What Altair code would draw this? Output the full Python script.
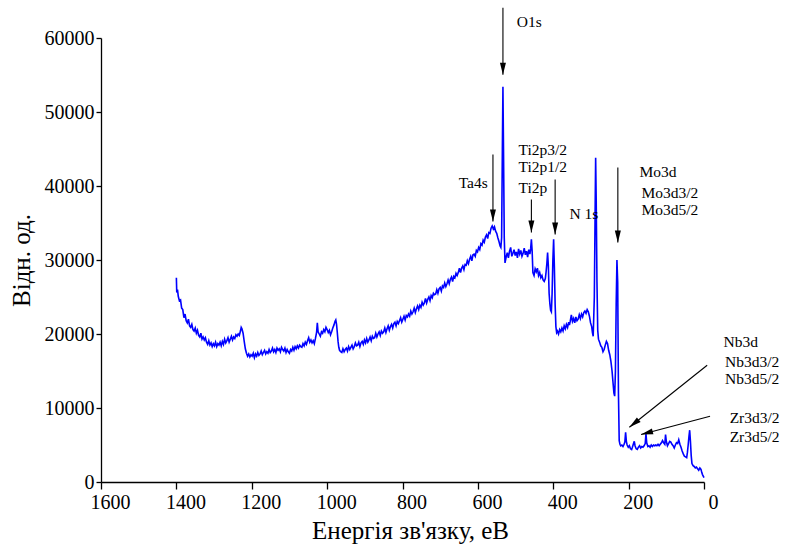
import math
import altair as alt
import pandas as pd

# XPS survey spectrum: binding energy (eV) and intensity (counts)
energy = [
    1400, 1399, 1397, 1395, 1392, 1389, 1386, 1383, 1380, 1377, 1374, 1371, 1368, 1365,
    1362, 1359, 1356, 1353, 1350, 1347, 1344, 1341, 1338, 1335, 1332, 1329, 1326, 1323,
    1320, 1317, 1314, 1311, 1308, 1305, 1302, 1299, 1296, 1293, 1290, 1287, 1284, 1281,
    1278, 1275, 1272, 1269, 1266, 1263, 1260, 1257, 1254, 1251, 1248, 1245, 1242, 1239,
    1236, 1233, 1230, 1228, 1226, 1223, 1220, 1217, 1214, 1211, 1208, 1205, 1202, 1199,
    1196, 1193, 1190, 1187, 1184, 1181, 1178, 1175, 1172, 1169, 1166, 1163, 1160, 1157,
    1154, 1151, 1148, 1145, 1142, 1139, 1136, 1133, 1130, 1127, 1124, 1121, 1118, 1115,
    1112, 1109, 1106, 1103, 1100, 1097, 1094, 1091, 1088, 1085, 1082, 1079, 1076, 1073,
    1070, 1067, 1064, 1061, 1058, 1055, 1052, 1049, 1046, 1043, 1040, 1037, 1034, 1031,
    1028, 1026, 1024, 1021, 1018, 1015, 1012, 1009, 1006, 1003, 1000, 997, 994, 991,
    988, 985, 982, 979, 977, 975, 973, 971, 969, 967,
    964, 961, 958, 955, 952, 949, 946, 943, 940, 937, 934, 931, 928, 925, 922, 919,
    916, 913, 910, 907, 904, 901, 898, 895, 892, 889, 886, 883, 880, 877, 874, 871,
    868, 865, 862, 859, 856, 853, 850, 847, 844, 841, 838, 835, 832, 829, 826, 823,
    820, 817, 814, 811, 808, 805, 802, 799, 796, 793, 790, 787, 784, 781, 778, 775,
    772, 769, 766, 763, 760, 757, 754, 751, 748, 745, 742, 739, 736, 733, 730, 727,
    724, 721, 718, 715, 712, 709, 706, 703, 700, 697, 694, 691, 688, 685, 682, 679,
    676, 673, 670, 667, 664, 661, 658, 655, 652, 649, 646, 643, 640, 637, 634, 631,
    628, 625, 622, 619, 616, 613, 610, 607, 604, 601, 598, 595, 592, 589, 586, 583,
    580, 577, 574, 571, 568, 565, 562, 559, 556, 553, 550, 547, 544, 541, 539,
    537, 535, 533.5, 532, 530, 528, 525, 522, 519, 516, 513, 510, 507, 504, 501, 498,
    495, 492, 489, 486, 483, 480, 477, 474, 471, 468, 465, 462, 460, 458, 456, 454, 451,
    448, 445, 442, 439, 436, 433, 430, 427, 424, 421, 419, 417, 415, 413, 411, 409, 407,
    405, 403, 401, 399, 397, 395, 393, 391, 389, 386, 383, 380, 377, 374, 371, 368, 365,
    362, 359, 357, 355, 352, 349, 346, 343, 340, 337, 334, 331, 328, 325, 322, 319, 316,
    313, 310, 307, 304, 301, 298, 296, 294, 291, 289, 287.5, 286, 284, 282, 280, 277,
    274, 271, 268, 265, 262, 259, 256, 253, 250, 247, 244, 241, 239, 237, 235, 233, 231,
    229, 227, 225, 223, 221, 218, 215, 212, 210, 208, 206, 204, 201, 198, 195, 192, 190,
    187, 185, 183, 180, 177, 174, 171, 168, 165, 162, 159, 156, 154, 152, 149, 146, 143,
    140, 137, 134, 131, 128, 125, 122, 119, 116, 113, 110, 107, 104, 102, 100, 97, 94,
    91, 88, 85, 82, 79, 76, 73, 70, 67, 64, 61, 58, 55, 52, 49, 46, 44, 42, 40, 38, 36,
    34, 32, 29, 26, 23, 20, 17, 14, 11, 8, 6, 4, 2, 0,
]
counts = [
    27600, 25600, 26000, 25100, 24500, 24600, 23500, 23300, 22200, 22700, 21800, 21500, 22000, 21100,
    20900, 21300, 20600, 20400, 20800, 20100, 20500, 19800, 19600, 20100, 19300, 19600, 19200, 19500,
    18900, 18600, 19100, 18500, 18800, 18300, 18700, 18400, 18900, 18300, 18700, 18500, 18900, 18400,
    19000, 18600, 19300, 18800, 19100, 19500, 18900, 19300, 19700, 19200, 19600, 19400, 19900, 19700,
    20000, 19800, 20400, 20900, 20700, 20100, 19000, 18000, 17400, 17000, 17300, 16900, 17200, 17000,
    17400, 16800, 17300, 17000, 17500, 17100, 17300, 17700, 17200, 17500, 17800, 17300, 17600, 17400,
    17900, 17500, 17700, 18100, 17600, 17900, 17500, 18100, 17800, 18000, 17600, 18200, 17900, 17700,
    18100, 17500, 17900, 17600, 17400, 17900, 17700, 18200, 17800, 18300, 18000, 18400, 18100, 18500,
    18300, 18200, 18700, 18400, 18900, 18600, 19100, 19500, 18900, 19200, 18800, 19100, 18700, 19400,
    20200, 21500, 20300, 20000, 19700, 20300, 20100, 20600, 20300, 20900, 20600, 20200, 20500, 19900,
    20300, 20800, 21200, 21700, 21900, 21300, 20200, 19000, 18200, 17800,
    17600, 17500, 18000, 17600, 17900, 18100, 17700, 18300, 17900, 18200, 18500, 18000, 18300, 18800, 18400, 18500,
    18900, 18300, 18800, 19000, 18600, 19200, 18800, 19400, 18900, 19200, 19600, 19100, 19700, 19400, 19500, 20100,
    19600, 20000, 20300, 19800, 20400, 20100, 20300, 20800, 20200, 20700, 21100, 20500, 21000, 21300, 20800, 21400,
    21600, 21100, 21700, 21400, 21800, 22200, 21600, 22000, 22400, 21900, 22500, 22300, 22700, 22400, 23100, 22700,
    23000, 23500, 22900, 23400, 23800, 23300, 23900, 23600, 24300, 23900, 24200, 24800, 24200, 24700, 25000, 24500,
    25200, 24900, 25500, 25300, 25400, 26000, 25500, 26100, 26300, 25800, 26500, 26300, 26900, 26400, 26800, 27300,
    26800, 27400, 27700, 27100, 27800, 27600, 28200, 27900, 28300, 28900, 28300, 28900, 29200, 28700, 29400, 29300,
    29900, 29500, 30100, 30500, 29900, 30700, 30800, 30500, 31300, 31100, 31700, 31400, 32200, 32000, 32700, 32400,
    33100, 33400, 32900, 33700, 33600, 34300, 34600, 34200, 34500, 33900, 33600, 33000, 32500, 31900, 31700,
    33000, 45000, 53400, 45000, 33000, 29600, 30400, 31000, 30300, 31200, 31700, 30500, 30900, 31400, 30600, 31100,
    30300, 31500, 30800, 31300, 30500, 30900, 31600, 30700, 31200, 30400, 31400, 30800, 31500, 32800, 31200, 28300, 27900,
    28800, 28400, 28900, 27900, 28300, 27600, 27900, 27300, 27100, 27500, 28400, 29500, 31000, 29200, 25500, 24100, 23200,
    23000, 25500, 30000, 32800, 29000, 24000, 21000, 20200, 20400, 20000, 20600, 20300, 20800, 20400, 21100, 20700, 21300,
    20900, 21600, 21200, 21700, 22600, 21700, 22100, 21500, 22300, 21800, 22000, 22600, 22100, 22700, 22300, 22900, 23100,
    22800, 23300, 23000, 22400, 21500, 21000, 20200, 19700, 25000, 36000, 43800, 38000, 27000, 20500, 19300, 18900,
    18400, 18200, 17600, 17900, 18500, 19000, 18700, 17800, 17200, 16300, 15000, 13200, 12000, 11600, 15000, 24000, 30000,
    27000, 12000, 5600, 5100, 4900, 5000, 4800, 5100, 5400, 6700, 5500, 5000, 4700, 4900, 4500, 4400, 4700,
    5200, 5500, 4900, 4500, 4400, 4700, 4900, 4600, 4800, 4700, 4900, 5200, 6500, 5300, 4800, 4900, 4700,
    5000, 4800, 5000, 4900, 5000, 4900, 5100, 4900, 5100, 5300, 5600, 5300, 5100, 6400, 5500, 4900, 5200,
    5500, 5400, 5100, 4900, 4600, 5000, 5300, 5200, 5700, 5100, 4700, 4200, 3800, 3500, 3400, 3300, 4000, 5000, 6100, 7000, 5500,
    3600, 2500, 2200, 2100, 1900, 2000, 1800, 1600, 1900, 1700, 1300, 1000, 800, 600,
]

# Peak assignment arrows: tail and tip in (eV, counts)
arrow_tail_e = [533.5, 560, 458, 395, 228.6, -8.4, -16]
arrow_tail_i = [64100, 44250, 38170, 40870, 42490, 15780, 8890]
arrow_tip_e = [533.5, 560, 458, 395, 228.6, 198, 167]
arrow_tip_i = [55050, 35200, 33700, 33440, 32360, 7400, 6420]

# Peak labels (left edge of text)
label_text = ["O1s", "Ta4s", "Ti2p3/2", "Ti2p1/2", "Ti2p", "N 1s", "Mo3d", "Mo3d3/2",
              "Mo3d5/2", "Nb3d", "Nb3d3/2", "Nb3d5/2", "Zr3d3/2", "Zr3d5/2"]
label_e = [497, 651, 492, 492, 492, 357, 171, 166, 166, -52, -56, -56, -68, -68]
label_i = [62200, 40460, 44920, 42620, 39790, 36270, 41950, 39110, 36815, 18890,
           16280, 13980, 8710, 6050]

W, H = 603, 444
E_MAX, I_MAX = 1600, 60000
SERIF = "Liberation Serif"

spec = pd.DataFrame({"E": energy, "I": counts, "idx": range(len(energy))})

# head rotation from the on-screen direction of each arrow
px_e = W / E_MAX
px_i = H / I_MAX
angles = []
for e0, i0, e1, i1 in zip(arrow_tail_e, arrow_tail_i, arrow_tip_e, arrow_tip_i):
    dx = -(e1 - e0) * px_e
    dy = -(i1 - i0) * px_i
    angles.append(math.degrees(math.atan2(dx, -dy)) % 360)

arrows = pd.DataFrame({
    "e0": arrow_tail_e, "i0": arrow_tail_i,
    "e1": arrow_tip_e, "i1": arrow_tip_i, "ang": angles,
})
labels = pd.DataFrame({"t": label_text, "E": label_e, "I": label_i})

x_scale = alt.Scale(domain=[0, E_MAX], reverse=True, nice=False, zero=False)
y_scale = alt.Scale(domain=[0, I_MAX], nice=False)

x_axis = alt.Axis(
    values=list(range(0, 1601, 100)),
    labelExpr="datum.value % 200 == 0 ? datum.label : ''",
    format="d", labelOverlap=False, labelFlush=False, labelBound=False,
    labelFont=SERIF, labelFontSize=20, labelColor="black", labelOffset=9, labelPadding=3,
    tickSize=7, tickColor="black", tickWidth=1.3,
    domainColor="black", domainWidth=1.3, grid=False,
    title="Енергія зв'язку, еВ", titleFont=SERIF, titleFontSize=25,
    titleFontWeight="normal", titleColor="black",
    titleX=309, titleY=48, titleBaseline="middle", titleAlign="center",
)
y_axis = alt.Axis(
    values=list(range(0, 60001, 10000)), format="d",
    labelFont=SERIF, labelFontSize=20, labelColor="black", labelPadding=2,
    tickSize=5, tickColor="black", tickWidth=1.3,
    domainColor="black", domainWidth=1.3, grid=False,
    title="Відн. од.", titleFont=SERIF, titleFontSize=25,
    titleFontWeight="normal", titleColor="black",
    titleX=-80, titleY=H / 2, titleAngle=270, titleBaseline="middle", titleAlign="center",
)

line = alt.Chart(spec).mark_line(color="#0000ff", strokeWidth=1.6).encode(
    x=alt.X("E:Q", scale=x_scale, axis=x_axis),
    y=alt.Y("I:Q", scale=y_scale, axis=y_axis),
    order=alt.Order("idx:Q"),
)

shafts = alt.Chart(arrows).mark_rule(color="black", strokeWidth=1.1).encode(
    x=alt.X("e0:Q", scale=x_scale), y=alt.Y("i0:Q", scale=y_scale),
    x2="e1:Q", y2="i1:Q",
)

heads = alt.Chart(arrows).mark_point(
    shape="M0,0L-0.5,2L0.5,2Z", filled=True, color="black", opacity=1, size=144,
).encode(
    x=alt.X("e1:Q", scale=x_scale), y=alt.Y("i1:Q", scale=y_scale),
    angle=alt.Angle("ang:Q", scale=None),
)

texts = alt.Chart(labels).mark_text(
    align="left", baseline="middle", font=SERIF, fontSize=15.5, color="black",
).encode(
    x=alt.X("E:Q", scale=x_scale), y=alt.Y("I:Q", scale=y_scale), text="t:N",
)

chart = alt.layer(line, shafts, heads, texts).properties(
    width=W, height=H,
    padding={"left": 101, "top": 38, "right": 82, "bottom": 73},
    autosize=alt.AutoSizeParams(type="none"),
    background="white",
).configure_view(stroke=None)

chart.save("out.html", embed_options={"renderer": "svg", "actions": False})
